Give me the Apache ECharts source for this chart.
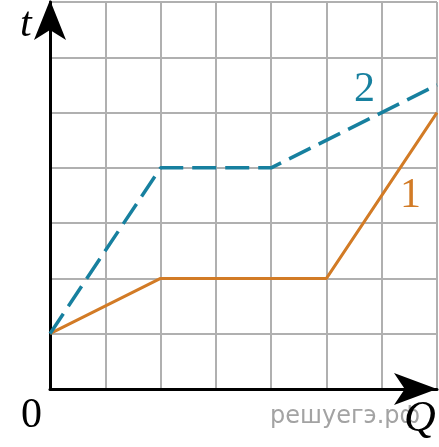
<!DOCTYPE html>
<html>
<head>
<meta charset="utf-8">
<script src="https://cdn.jsdelivr.net/npm/echarts@6/dist/echarts.min.js"></script>
<style>html,body{margin:0;padding:0;background:#fff}#c{width:439px;height:447px}</style>
</head>
<body>
<div id="c"></div>
<script>
// Data (grid units: Q on x, t on y)
const q1 = [0, 2, 5, 7];
const t1 = [1, 2, 2, 5];
const q2 = [0, 2, 4, 7];
const t2 = [1, 4, 4, 5.5];
const xTicks = [0, 1, 2, 3, 4, 5, 6, 7];
const yTicks = [0, 1, 2, 3, 4, 5, 6, 7];
const seriesNames = ['1', '2'];
const axisNames = ['Q', 't'];
const originLabel = '0';
const watermark = 'решуегэ.рф';

const orange = '#d27b26';
const blue = '#17809f';

const chart = echarts.init(document.getElementById('c'), null, {renderer: 'canvas'});
chart.setOption({
  animation: false,
  grid: {left: 50, right: 2, top: 2, bottom: 58, containLabel: false},
  xAxis: {
    type: 'value', min: xTicks[0], max: xTicks[xTicks.length - 1], interval: 1,
    axisLine: {show: true, onZero: false, lineStyle: {color: '#000', width: 3},
      symbol: ['none', 'arrow'], symbolSize: [24, 43], symbolOffset: [0, 0]},
    axisTick: {show: false}, axisLabel: {show: false},
    splitLine: {show: true, lineStyle: {color: '#b0b0b0', width: 2}}
  },
  yAxis: {
    type: 'value', min: yTicks[0], max: yTicks[yTicks.length - 1], interval: 1,
    axisLine: {show: true, onZero: false, lineStyle: {color: '#000', width: 3},
      symbol: ['none', 'arrow'], symbolSize: [24, 40], symbolOffset: [0, 2]},
    axisTick: {show: false}, axisLabel: {show: false},
    splitLine: {show: true, lineStyle: {color: '#b0b0b0', width: 2}}
  },
  series: [
    {name: seriesNames[0], type: 'line', data: q1.map((q, i) => [q, t1[i]]),
      symbol: 'none', lineStyle: {color: orange, width: 3}, z: 2},
    {name: seriesNames[1], type: 'line', data: q2.map((q, i) => [q, t2[i]]),
      symbol: 'none', lineStyle: {color: blue, width: 3.5, type: [24, 9]}, z: 2}
  ],
  graphic: [
    {type: 'text', left: 270, top: 405, z: 10,
      style: {text: watermark, font: '24px "DejaVu Sans"', fill: '#a3a3a3'}},
    {type: 'text', left: 404, top: 397, z: 11,
      style: {text: axisNames[0], font: 'italic 44px "Liberation Serif"', fill: '#000'}},
    {type: 'text', left: 20, top: 4, z: 11,
      style: {text: axisNames[1], font: 'italic 42px "Liberation Serif"', fill: '#000'}},
    {type: 'text', left: 21, top: 395, z: 11,
      style: {text: originLabel, font: '42px "Liberation Serif"', fill: '#000'}},
    {type: 'text', left: 354, top: 69, z: 11,
      style: {text: seriesNames[1], font: '42px "Liberation Serif"', fill: blue}},
    {type: 'text', left: 400, top: 175, z: 11,
      style: {text: seriesNames[0], font: '42px "Liberation Serif"', fill: orange}}
  ]
});
</script>
</body>
</html>
